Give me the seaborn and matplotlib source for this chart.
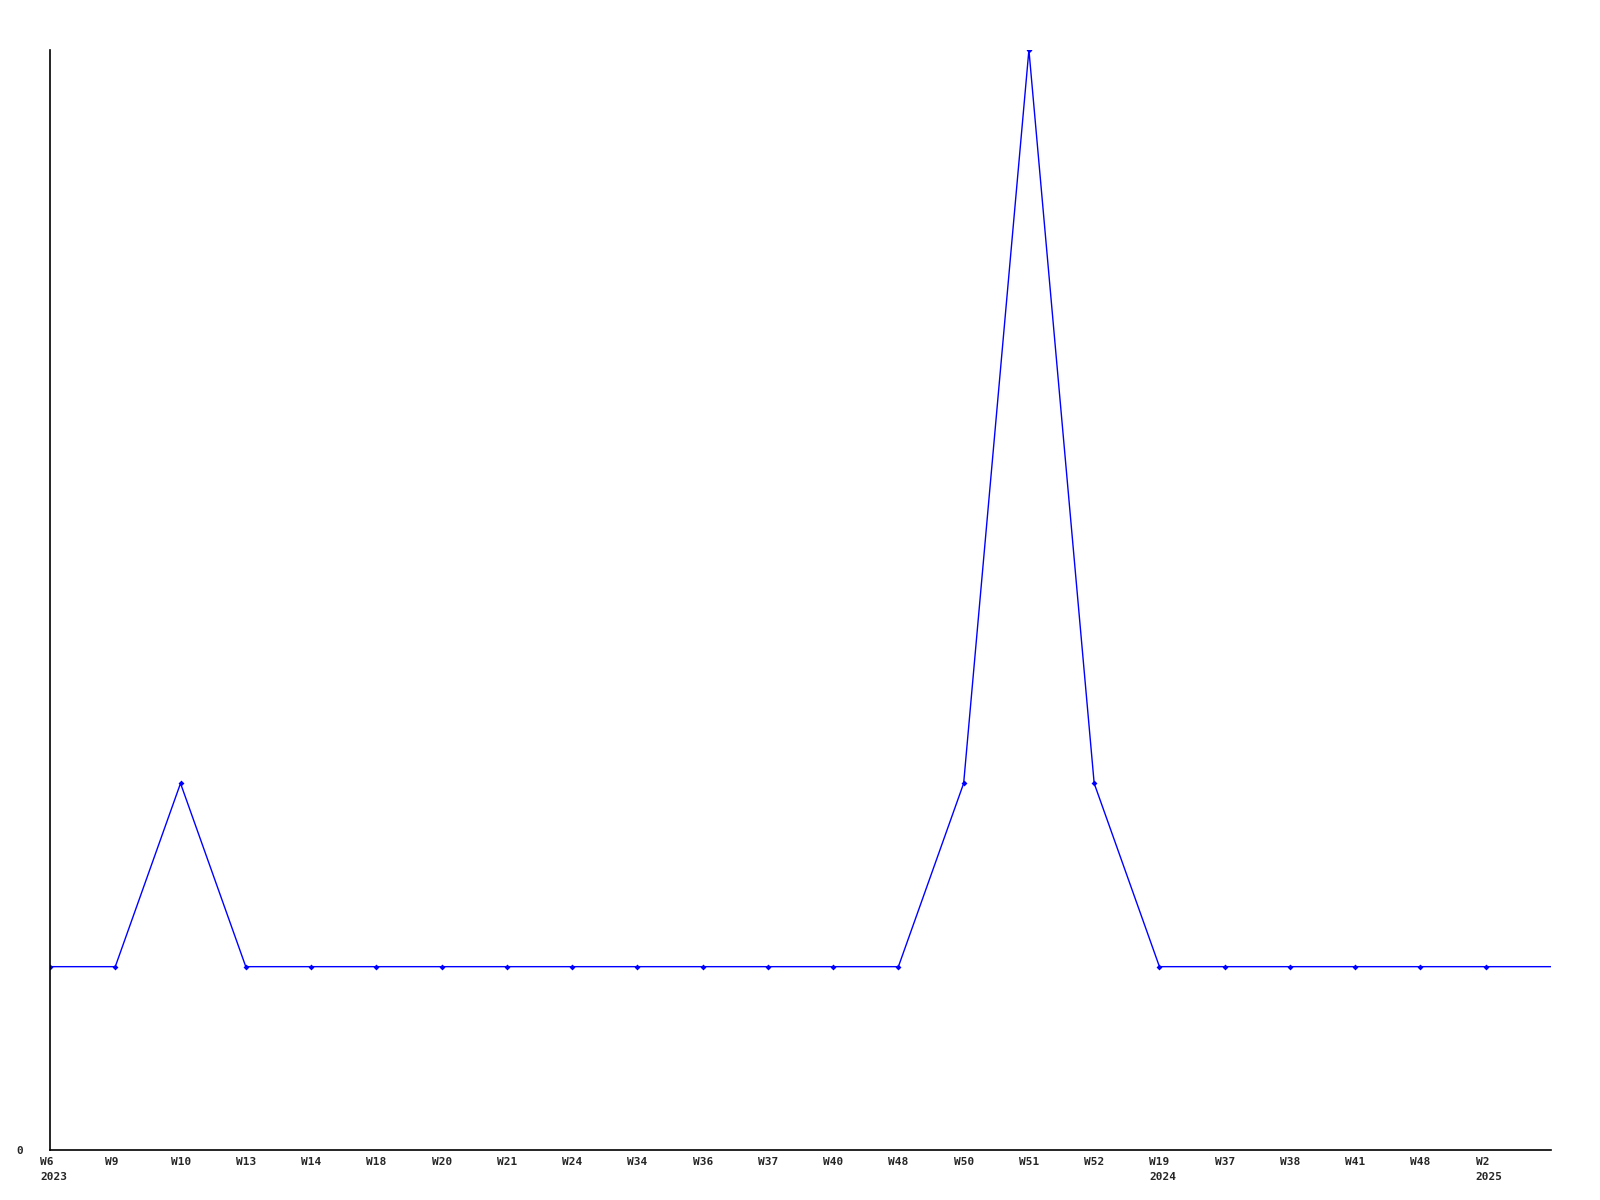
import matplotlib
matplotlib.use("Agg")
import matplotlib.pyplot as plt
import seaborn as sns
import pandas as pd

# weekly counts, last point is an unlabeled trailing entry
weeks = ["W6", "W9", "W10", "W13", "W14", "W18", "W20", "W21", "W24", "W34",
         "W36", "W37", "W40", "W48", "W50", "W51", "W52", "W19", "W37", "W38",
         "W41", "W48", "W2", ""]
years = ["2023", "", "", "", "", "", "", "", "", "",
         "", "", "", "", "", "", "", "2024", "", "",
         "", "", "2025", ""]
counts = [1, 1, 2, 1, 1, 1, 1, 1, 1, 1,
          1, 1, 1, 1, 2, 6, 2, 1, 1, 1,
          1, 1, 1, 1]

df = pd.DataFrame({"pos": range(len(counts)), "count": counts})

sns.set_style("white")
plt.rcParams['font.family'] = ['DejaVu Sans Mono']

fig = plt.figure(figsize=(16, 12), dpi=100)
ax = fig.add_axes([50 / 1600, 50 / 1200, 1501 / 1600, 1100 / 1200])

sns.lineplot(data=df, x="pos", y="count", ax=ax, color="#0000ff", linewidth=1.0,
             marker="D", markersize=3, markeredgewidth=0,
             markevery=list(range(len(counts) - 1)))

ax.set_xlim(0, len(counts) - 1)
ax.set_ylim(0, 6)

# x labels, left-aligned a little before each point
ax.set_xticks([])
for i, (w, y) in enumerate(zip(weeks, years)):
    if not w:
        continue
    text = w if not y else f"{w}\n{y}"
    ax.annotate(text, xy=(i, 0), xycoords=("data", "axes fraction"),
                xytext=(-10, -7), textcoords="offset pixels",
                ha="left", va="top", fontsize=8, fontweight="bold",
                linespacing=1.6, annotation_clip=False)

ax.set_yticks([0])
ax.set_yticklabels(["0"], fontsize=8, fontweight="bold")
ax.tick_params(axis="both", length=0)
ax.tick_params(axis="y", pad=19)

ax.set_xlabel("")
ax.set_ylabel("")
for side in ["top", "right"]:
    ax.spines[side].set_visible(False)
for side in ["left", "bottom"]:
    ax.spines[side].set_color("black")
    ax.spines[side].set_linewidth(1.2)

fig.savefig("out.png", dpi=100, facecolor="white")
